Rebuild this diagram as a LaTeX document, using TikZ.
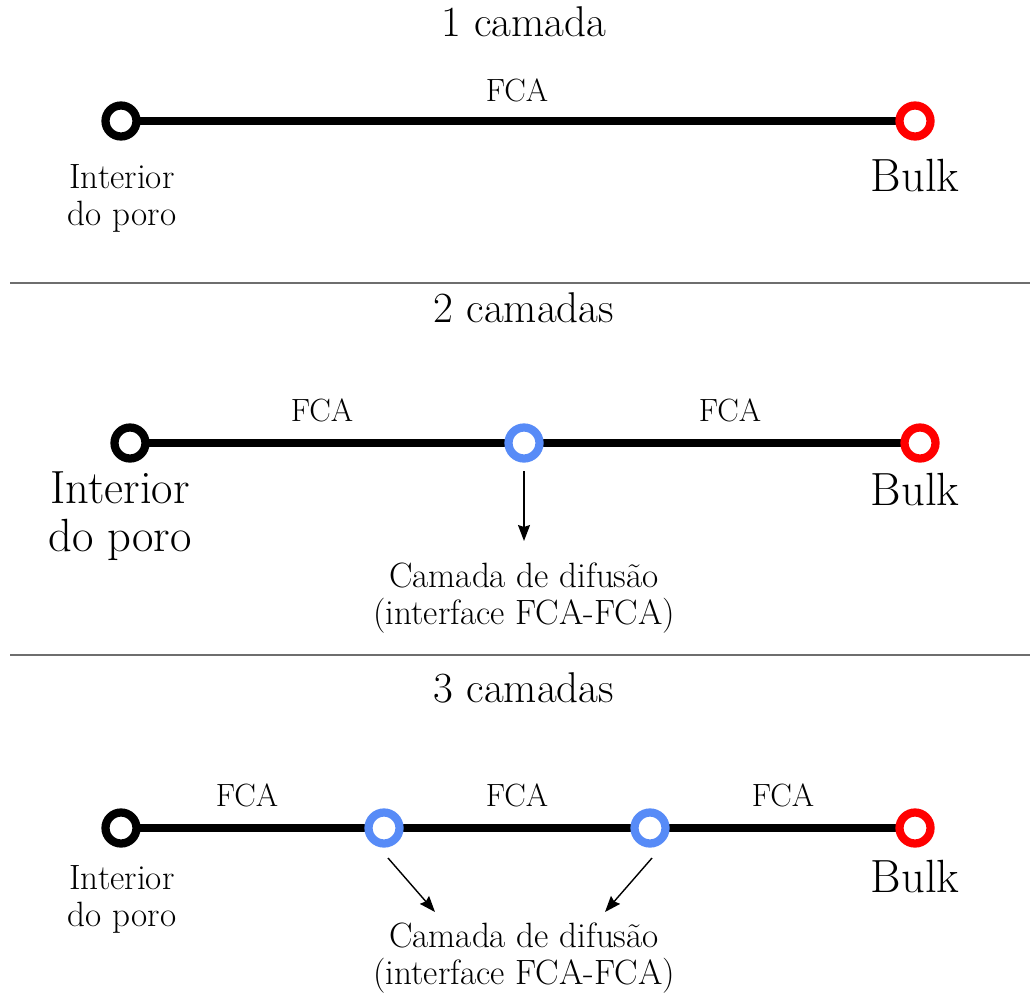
\documentclass[tikz,border=0pt]{standalone}
\usepackage{xcolor}
\usepackage{tikz}
\usetikzlibrary{arrows.meta, positioning, calc, backgrounds}
\definecolor{porored}{RGB}{255,0,0}
\definecolor{difblue}{RGB}{87,139,247}
\definecolor{seplinha}{RGB}{110,110,110}

\begin{document}
\begin{tikzpicture}[x=0.02cm, y=-0.02cm,
  titulo/.style={font=\fontsize{24.5}{28}\selectfont},
  camada/.style={font=\fontsize{18.3}{21}\selectfont},
  rotpeq/.style={font=\fontsize{20}{21}\selectfont, align=center},
  rotgr/.style={font=\fontsize{26.5}{27.5}\selectfont, align=center},
  anel/.style={circle, draw, line width=4.7pt, fill=white, minimum size=0.62cm, inner sep=0pt},
  pint/.style={anel, draw=black},
  pbulk/.style={anel, draw=porored},
  pdif/.style={anel, draw=difblue},
  fio/.style={line width=4.7pt, draw=black},
  seta/.style={-{Stealth[length=3.2mm, width=2.4mm, inset=0.4mm]}, line width=0.8pt},
  sep/.style={draw=seplinha, line width=0.8pt}
]
\useasboundingbox (0,0) rectangle (1030,994);
% 1 camada
\node[titulo] (t1) at (524,22) {1 camada};
\node[pint] (a1) at (121,121) {};
\node[pbulk] (b1) at (915,121) {};
\node[camada] (f1) at (517,90) {FCA};
\node[rotpeq] (i1) at (122,198) {Interior\\do poro};
\node[rotgr] (k1) at (915,176) {Bulk};
\coordinate (s1a) at (10,283);
\coordinate (s1b) at (1030,283);
\draw[sep] (s1a) -- (s1b);
% 2 camadas
\node[titulo] (t2) at (524,308) {2 camadas};
\node[pint] (a2) at (130,443) {};
\node[pdif] (d2) at (524,443) {};
\node[pbulk] (b2) at (920,443) {};
\node[camada] (f2a) at (322,410) {FCA};
\node[camada] (f2b) at (730,410) {FCA};
\node[rotgr] (i2) at (120,516) {Interior\\do poro};
\node[rotgr] (k2) at (915,490) {Bulk};
\node[rotpeq] (c2) at (524,598) {Camada de difusão\\(interface FCA-FCA)};
\coordinate (s2a) at (10,655);
\coordinate (s2b) at (1030,655);
\draw[sep] (s2a) -- (s2b);
% 3 camadas
\node[titulo] (t3) at (524,688) {3 camadas};
\node[pint] (a3) at (121,828) {};
\node[pdif] (d3a) at (384,828) {};
\node[pdif] (d3b) at (650,828) {};
\node[pbulk] (b3) at (915,828) {};
\node[camada] (f3a) at (247,795) {FCA};
\node[camada] (f3b) at (517,795) {FCA};
\node[camada] (f3c) at (783,795) {FCA};
\node[rotpeq] (i3) at (122,899) {Interior\\do poro};
\node[rotgr] (k3) at (915,877) {Bulk};
\node[rotpeq] (c3) at (524,958) {Camada de difusão\\(interface FCA-FCA)};
% Fios (atras dos aneis)
\begin{pgfonlayer}{background}
\draw[fio] (a1.center) -- (b1.center);
\draw[fio] (a2.center) -- (d2.center) -- (b2.center);
\draw[fio] (a3.center) -- (d3a.center) -- (d3b.center) -- (b3.center);
\end{pgfonlayer}
% Setas
\draw[seta] ($(d2)+(0,28)$) -- ($(d2)+(0,98)$);
\draw[seta] ($(d3a)+(4,30)$) -- ($(d3a)+(51,84)$);
\draw[seta] ($(d3b)+(2,30)$) -- ($(d3b)+(-45,84)$);
\end{tikzpicture}
\end{document}
